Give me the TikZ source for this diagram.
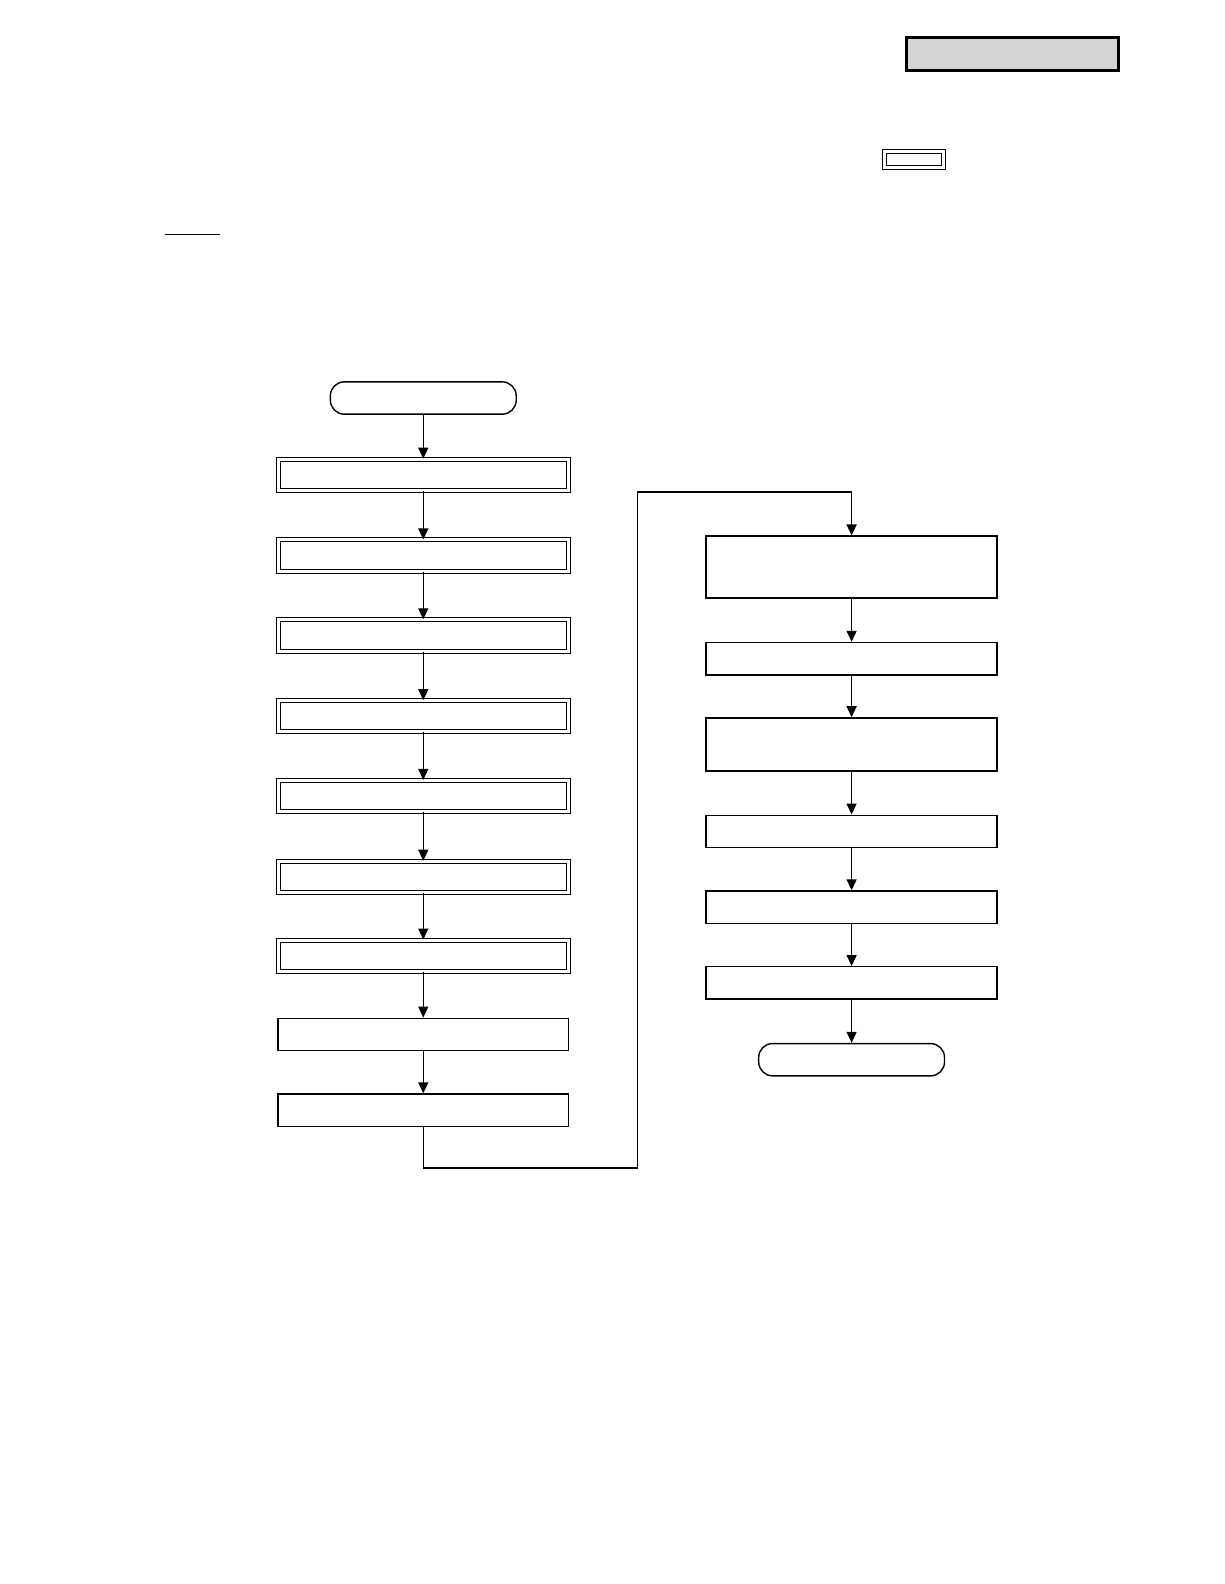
\documentclass[tikz,border=0pt]{standalone}
\usepackage{tikz}
\usetikzlibrary{positioning, arrows.meta, calc}

\tikzset{
	dbox/.style = {draw, double, line width = 0.5bp, double distance = 1.5bp,
		minimum width = 144.9bp, minimum height = 15.65bp, inner sep = 0pt},
	sbox/.style = {draw, line width = 0.7bp, minimum width = 145.4bp,
		minimum height = 16.16bp, inner sep = 0pt},
	tbox/.style = {draw, line width = 0.7bp, rounded corners = 7bp,
		minimum width = 92.9bp, minimum height = 16.16bp, inner sep = 0pt},
	flow/.style = {line width = 0.7bp, -{Triangle[length = 5.5bp, width = 5bp]}}
}

\begin{document}
\begin{tikzpicture}[x = 0.50495bp, y = -0.50495bp]
	\useasboundingbox (0,0) rectangle (1212,1568);
	
	% Header
	\node[draw, line width = 1.5bp, fill = black!17, minimum width = 106bp,
	minimum height = 16.7bp, inner sep = 0pt] (tag) at (1002,53.5) {};
	\node[draw, double, line width = 0.5bp, double distance = 1.5bp,
	minimum width = 29.3bp, minimum height = 8.1bp, inner sep = 0pt] (mark) at (904.5,157.5) {};
	\coordinate (ulA) at (163,232);
	\coordinate (ulB) at (218,232);
	\draw[line width = 0.75bp] (ulA) -- (ulB);
	
	% Left column
	\node[tbox] (start) at (419,394) {};
	\node[dbox] (step1) at ($(start) + (0,76)$) {};
	\node[dbox] (step2) at ($(start) + (0,156)$) {};
	\node[dbox] (step3) at ($(start) + (0,235)$) {};
	\node[dbox] (step4) at ($(start) + (0,315)$) {};
	\node[dbox] (step5) at ($(start) + (0,394)$) {};
	\node[dbox] (step6) at ($(start) + (0,474)$) {};
	\node[dbox] (step7) at ($(start) + (0,552)$) {};
	\node[sbox] (step8) at ($(start) + (0,630)$) {};
	\node[sbox] (step9) at ($(start) + (0,705)$) {};
	
	% Right column
	\node[sbox, line width = 1bp, minimum height = 30.8bp] (right1) at (843,561.5) {};
	\node[sbox] (right2) at ($(right1) + (0,90.5)$) {};
	\node[sbox, line width = 1bp, minimum height = 26.3bp] (right3) at ($(right1) + (0,175.5)$) {};
	\node[sbox] (right4) at ($(right1) + (0,261.5)$) {};
	\node[sbox] (right5) at ($(right1) + (0,336.5)$) {};
	\node[sbox] (right6) at ($(right1) + (0,411.5)$) {};
	\node[tbox] (finish) at ($(right1) + (0,487.5)$) {};
	
	% Connections
	\draw[flow] (start) -- (step1);
	\draw[flow] (step1) -- (step2);
	\draw[flow] (step2) -- (step3);
	\draw[flow] (step3) -- (step4);
	\draw[flow] (step4) -- (step5);
	\draw[flow] (step5) -- (step6);
	\draw[flow] (step6) -- (step7);
	\draw[flow] (step7) -- (step8);
	\draw[flow] (step8) -- (step9);
	
	\coordinate (bendA) at (631,1156);
	\coordinate (bendB) at (631,487);
	\draw[flow] (step9.south) |- (bendA) -- (bendB) -| (right1.north);
	
	\draw[flow] (right1) -- (right2);
	\draw[flow] (right2) -- (right3);
	\draw[flow] (right3) -- (right4);
	\draw[flow] (right4) -- (right5);
	\draw[flow] (right5) -- (right6);
	\draw[flow] (right6) -- (finish);
\end{tikzpicture}
\end{document}
